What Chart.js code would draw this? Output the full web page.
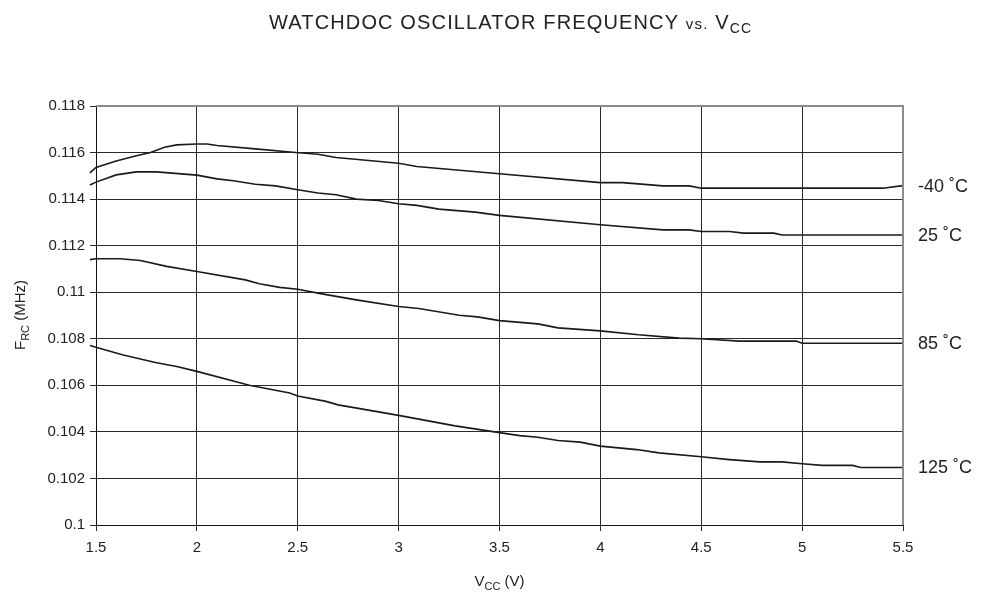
<!DOCTYPE html>
<html>
<head>
<meta charset="utf-8">
<script src="https://cdn.jsdelivr.net/npm/chart.js@4.4.0/dist/chart.umd.min.js"></script>
<style>
html, body { margin: 0; padding: 0; background: #fff; }
#wrap { width: 991px; height: 608px; }
</style>
</head>
<body>
<div id="wrap"><canvas id="chart" width="991" height="608"></canvas></div>
<script>
'use strict'

/**
 * Data
 */

const tempLabels = ['-40 ˚C', '25 ˚C', '85 ˚C', '125 ˚C'];
const xTickLabels = ['1.5', '2', '2.5', '3', '3.5', '4', '4.5', '5', '5.5'];
const yTickLabels = ['0.1', '0.102', '0.104', '0.106', '0.108', '0.11', '0.112', '0.114', '0.116', '0.118'];

const vccM40 = [1.47, 1.5, 1.6, 1.7, 1.77, 1.84, 1.9, 2.0, 2.05, 2.1, 2.29, 2.49, 2.6, 2.69, 3.0, 3.09, 3.5, 4.0, 4.11, 4.31, 4.44, 4.5, 5.0, 5.4, 5.5];
const freqM40 = [0.11513, 0.11536, 0.11564, 0.11586, 0.1160, 0.11623, 0.11633, 0.11637, 0.11637, 0.1163, 0.11616, 0.1160, 0.11593, 0.11579, 0.11554, 0.1154, 0.11509, 0.11471, 0.11471, 0.11457, 0.11457, 0.11447, 0.11447, 0.11447, 0.11458];

const vcc25 = [1.47, 1.5, 1.6, 1.7, 1.8, 2.0, 2.1, 2.18, 2.29, 2.39, 2.5, 2.6, 2.69, 2.79, 2.9, 3.0, 3.09, 3.2, 3.38, 3.5, 4.0, 4.31, 4.44, 4.5, 4.64, 4.71, 4.86, 4.9, 5.5];
const freq25 = [0.11461, 0.11473, 0.11504, 0.11517, 0.11517, 0.11503, 0.11487, 0.11479, 0.11464, 0.11457, 0.1144, 0.11426, 0.11419, 0.114, 0.11394, 0.1138, 0.11373, 0.11357, 0.11344, 0.1133, 0.1129, 0.11268, 0.11268, 0.11261, 0.11261, 0.11254, 0.11254, 0.11246, 0.11246];

const vcc85 = [1.47, 1.5, 1.62, 1.72, 1.85, 2.0, 2.24, 2.31, 2.41, 2.5, 2.62, 2.79, 3.0, 3.1, 3.3, 3.39, 3.5, 3.69, 3.79, 4.0, 4.19, 4.39, 4.5, 4.69, 4.97, 5.0, 5.5];
const freq85 = [0.1114, 0.11144, 0.11144, 0.11136, 0.11111, 0.11089, 0.11053, 0.11036, 0.11021, 0.11013, 0.10993, 0.10967, 0.10939, 0.1093, 0.10901, 0.10894, 0.10878, 0.10864, 0.10847, 0.10834, 0.10817, 0.10803, 0.108, 0.1079, 0.1079, 0.10781, 0.10781];

const vcc125 = [1.47, 1.5, 1.63, 1.8, 1.9, 2.0, 2.26, 2.46, 2.5, 2.64, 2.7, 3.0, 3.28, 3.5, 3.6, 3.69, 3.79, 3.9, 4.0, 4.18, 4.29, 4.5, 4.64, 4.79, 4.9, 5.0, 5.1, 5.25, 5.29, 5.5];
const freq125 = [0.10771, 0.10764, 0.10731, 0.10697, 0.10681, 0.1066, 0.106, 0.10567, 0.10554, 0.10531, 0.10516, 0.10471, 0.10426, 0.10397, 0.10384, 0.10377, 0.10363, 0.10356, 0.10339, 0.10324, 0.1031, 0.10293, 0.10281, 0.10271, 0.10271, 0.10263, 0.10256, 0.10256, 0.10247, 0.10247];

const FONT = '"Liberation Sans", Arial, sans-serif';

function toPoints(xs, ys) {
    return xs.map(function (x, i) { return { x: x, y: ys[i] }; });
}

function curve(label, xs, ys) {
    return {
        label: label,
        data: toPoints(xs, ys),
        borderColor: '#1a1a1a',
        borderWidth: 1.6,
        pointRadius: 0,
        tension: 0,
        fill: false,
        clip: { left: 8, top: 0, right: 0, bottom: 0 }
    };
}

// draws text pieces in a row, some of them subscripted
// fitWidth (optional) spreads the letters so the whole row gets that width
function drawRich(ctx, parts, x, y, align, fitWidth) {
    let total = 0, chars = 0;
    ctx.letterSpacing = '0px';
    parts.forEach(function (p) {
        ctx.font = p.size + 'px ' + FONT;
        p.w = ctx.measureText(p.text).width;
        total += p.w;
        chars += p.text.length;
    });
    let spacing = 0;
    if (fitWidth && chars > 1) {
        spacing = (fitWidth - total) / (chars - 1);
        total = fitWidth;
    }
    let cx = align === 'center' ? x - total / 2 : x;
    ctx.textAlign = 'left';
    ctx.textBaseline = 'alphabetic';
    ctx.letterSpacing = spacing + 'px';
    parts.forEach(function (p) {
        ctx.font = p.size + 'px ' + FONT;
        ctx.fillText(p.text, cx, y + (p.dy || 0));
        cx += p.w + spacing * p.text.length;
    });
    ctx.letterSpacing = '0px';
}

const decorations = {
    id: 'decorations',
    afterDraw: function (chart) {
        const ctx = chart.ctx;
        const area = chart.chartArea;
        const yScale = chart.scales.y;
        ctx.save();

        // gray frame on top and right
        ctx.strokeStyle = '#8c8c8c';
        ctx.lineWidth = 2;
        ctx.beginPath();
        ctx.moveTo(area.left, area.top);
        ctx.lineTo(area.right, area.top);
        ctx.lineTo(area.right, area.bottom);
        ctx.stroke();

        ctx.fillStyle = '#222';

        // title
        drawRich(ctx, [
            { text: 'WATCHDOC OSCILLATOR FREQUENCY ', size: 20 },
            { text: 'vs.', size: 15 },
            { text: ' V', size: 20 },
            { text: 'CC', size: 14, dy: 4 }
        ], 510, 29, 'center', 482);

        // x axis title
        drawRich(ctx, [
            { text: 'V', size: 15 },
            { text: 'CC', size: 11, dy: 4 },
            { text: ' (V)', size: 15 }
        ], (area.left + area.right) / 2, 586, 'center');

        // y axis title
        ctx.save();
        ctx.translate(25, 315);
        ctx.rotate(-Math.PI / 2);
        drawRich(ctx, [
            { text: 'F', size: 15 },
            { text: 'RC', size: 11, dy: 4 },
            { text: ' (MHz)', size: 15 }
        ], 0, 0, 'center');
        ctx.restore();

        // curve labels at the right end
        ctx.font = '18px ' + FONT;
        ctx.textAlign = 'left';
        ctx.textBaseline = 'middle';
        chart.data.datasets.forEach(function (ds) {
            const last = ds.data[ds.data.length - 1];
            ctx.fillText(ds.label, area.right + 15, yScale.getPixelForValue(last.y) + 1);
        });

        ctx.restore();
    }
};

let ctx = document.getElementById('chart');
let myChart = new Chart(ctx, {
    type: 'line',
    data: {
        datasets: [
            curve(tempLabels[0], vccM40, freqM40),
            curve(tempLabels[1], vcc25, freq25),
            curve(tempLabels[2], vcc85, freq85),
            curve(tempLabels[3], vcc125, freq125)
        ]
    },
    options: {
        responsive: false,
        animation: false,
        layout: { padding: { top: 106, right: 88, left: 0, bottom: 0 } },
        plugins: {
            legend: { display: false },
            tooltip: { enabled: false }
        },
        scales: {
            x: {
                type: 'linear',
                min: 1.5,
                max: 5.5,
                afterFit: function (scale) { scale.height = 83; },
                ticks: {
                    stepSize: 0.5,
                    color: '#222',
                    padding: 8,
                    maxRotation: 0,
                    font: { family: FONT, size: 15 },
                    callback: function (value, index) { return xTickLabels[index]; }
                },
                grid: { color: '#2a2a2a', lineWidth: 1, tickLength: 6 },
                border: { color: '#111', width: 1 }
            },
            y: {
                min: 0.1,
                max: 0.118,
                afterFit: function (scale) { scale.width = 96; },
                ticks: {
                    stepSize: 0.002,
                    color: '#222',
                    padding: 5,
                    font: { family: FONT, size: 15 },
                    callback: function (value, index) { return yTickLabels[index]; }
                },
                grid: { color: '#2a2a2a', lineWidth: 1, tickLength: 6 },
                border: { color: '#111', width: 1 }
            }
        }
    },
    plugins: [decorations]
});
</script>
</body>
</html>
